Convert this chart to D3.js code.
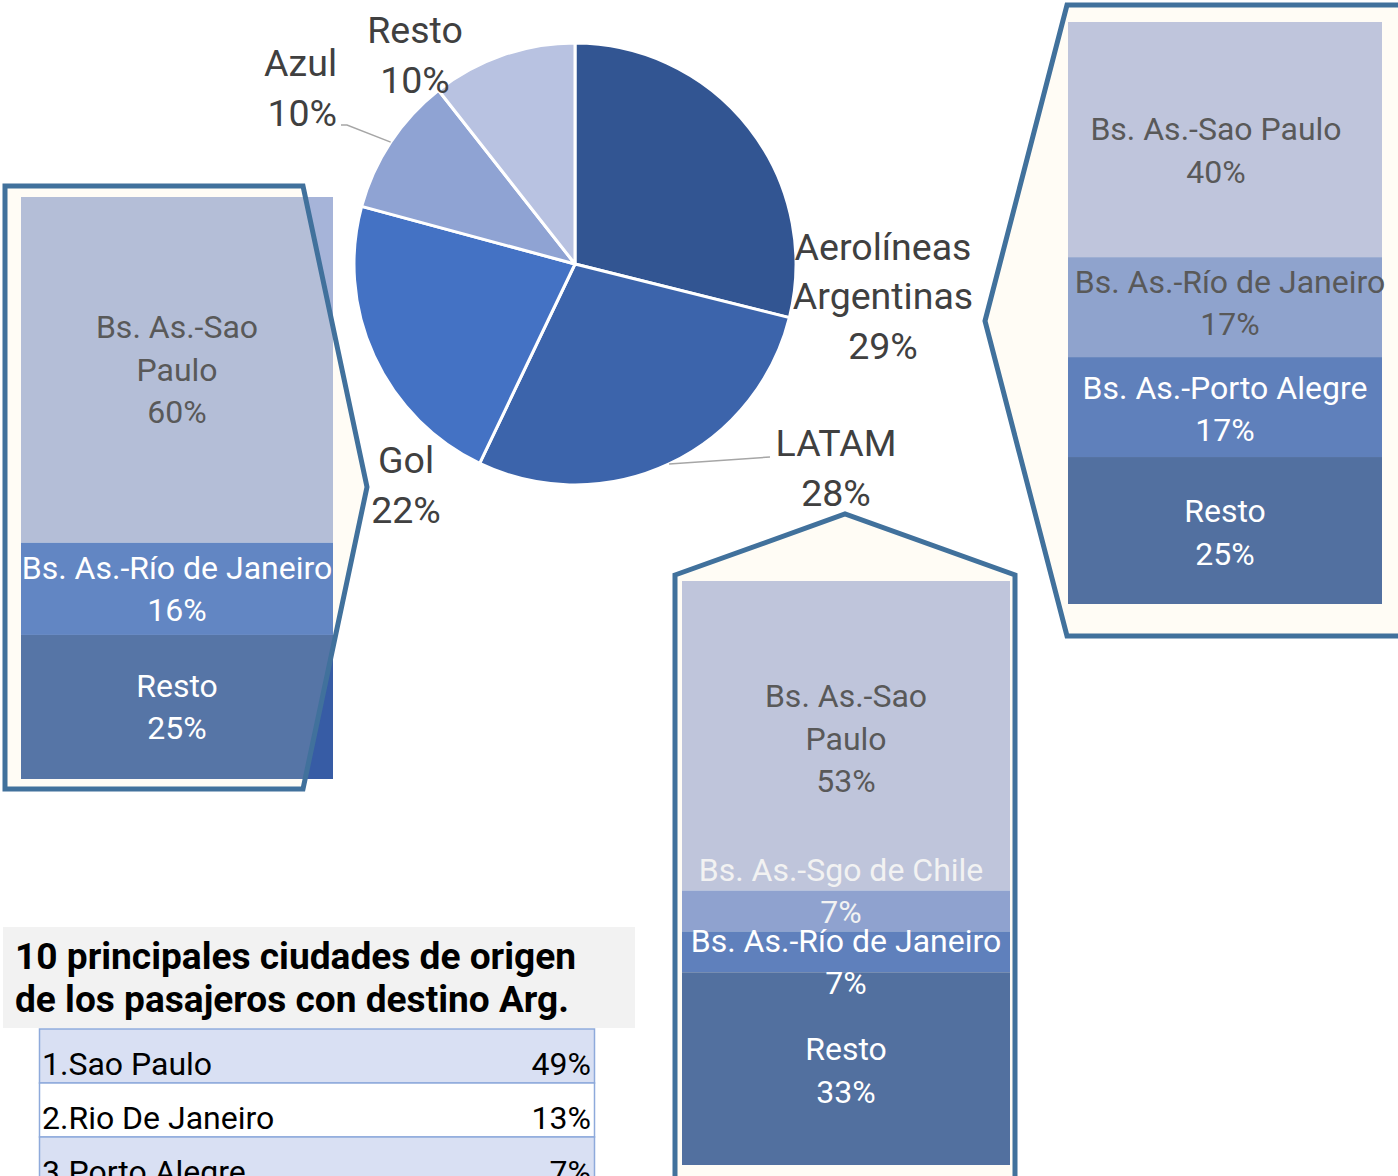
<!DOCTYPE html>
<html>
<head>
<meta charset="utf-8">
<script src="https://cdn.jsdelivr.net/npm/d3@7"></script>
<style>
  body { margin: 0; background: #fff; }
  svg { display: block; font-family: Roboto, "DejaVu Sans", sans-serif; }
</style>
</head>
<body>
<div id="chart"></div>
<script>
// pie: share of passengers per airline
const airlines = ["Aerolíneas|Argentinas", "LATAM", "Gol", "Azul", "Resto"];
const airlineShares = [28.9, 28.2, 22.1, 10.2, 10.6];
const airlineLabels = ["29%", "28%", "22%", "10%", "10%"];

// routes per airline (callout bars)
const golRoutes = ["Bs. As.-Sao|Paulo", "Bs. As.-Río de Janeiro", "Resto"];
const golShares = [60, 16, 25];
const arRoutes = ["Bs. As.-Sao Paulo", "Bs. As.-Río de Janeiro", "Bs. As.-Porto Alegre", "Resto"];
const arShares = [40, 17, 17, 25];
const latamRoutes = ["Bs. As.-Sao|Paulo", "Bs. As.-Sgo de Chile", "Bs. As.-Río de Janeiro", "Resto"];
const latamShares = [53, 7, 7, 33];

// table
const cities = ["Sao Paulo", "Rio De Janeiro", "Porto Alegre"];
const cityShares = [49, 13, 7];

const width = 1398, height = 1176;
const svg = d3.select("#chart").append("svg")
    .attr("width", width)
    .attr("height", height);

const pct = d => d + "%";
const calloutStroke = "#41719c";
const cream = "#fffcf5";

// ---- callout boxes ----
function callout(points, clipId) {
    const line = d3.line();
    svg.append("path")
        .attr("d", line(points) + "Z")
        .attr("fill", cream);
    if (clipId) {
        svg.append("clipPath").attr("id", clipId)
          .append("path").attr("d", line(points) + "Z");
    }
    return () => svg.append("path")
        .attr("d", line(points) + "Z")
        .attr("fill", "none")
        .attr("stroke", calloutStroke)
        .attr("stroke-width", 5)
        .attr("stroke-linejoin", "miter");
}

function stackBar(box, names, values, fills, textFills, nudges, clipId) {
    const total = d3.sum(values);
    const y = d3.scaleLinear().domain([0, total]).range([box.y0, box.y1]);
    const ends = d3.cumsum(values);
    const segs = values.map((v, i) => ({
        name: names[i], value: v, start: ends[i] - v, end: ends[i], i
    }));
    const g = svg.append("g");
    if (clipId) g.attr("clip-path", "url(#" + clipId + ")");
    g.selectAll("rect")
      .data(segs)
      .join("rect")
        .attr("x", box.x0)
        .attr("width", box.x1 - box.x0)
        .attr("y", d => y(d.start))
        .attr("height", d => y(d.end) - y(d.start))
        .attr("fill", d => fills[d.i]);
    return () => {
        const lg = svg.append("g")
            .attr("font-size", 32)
            .attr("text-anchor", "middle");
        segs.forEach(d => {
            const lines = d.name.split("|").concat([pct(d.value)]);
            const nd = nudges[d.i] || [0, 0];
            const cx = (box.x0 + box.x1) / 2 + nd[0];
            const cy = (y(d.start) + y(d.end)) / 2 + nd[1];
            const lh = 42.5;
            lg.selectAll(null)
              .data(lines)
              .join("text")
                .attr("x", cx)
                .attr("y", (t, k) => cy + (k - (lines.length - 1) / 2) * lh)
                .attr("dominant-baseline", "central")
                .attr("fill", textFills[d.i])
                .text(t => t);
        });
    };
}

// left: Gol
const golBox = {x0: 21, x1: 333, y0: 197, y1: 779};
stackBar(golBox, golRoutes, golShares, ["#a6b4d9", "#6286c3", "#375ca5"], [], [], null);
const golStroke = callout([[5, 186], [303, 186], [367, 487], [303, 789], [5, 789]], "clipGol");
const golText = stackBar(golBox, golRoutes, golShares,
    ["#b4bed7", "#6286c3", "#5675a6"], ["#595959", "#fff", "#fff"], [], "clipGol");
golStroke();
golText();

// right: Aerolíneas Argentinas
const arStroke = callout([[985, 321], [1067, 5], [1410, 5], [1410, 636], [1067, 636]]);
const arText = stackBar({x0: 1068, x1: 1382, y0: 22, y1: 604}, arRoutes, arShares,
    ["#bfc5dc", "#8fa3cd", "#5f80bb", "#5270a0"],
    ["#595959", "#595959", "#fff", "#fff"],
    [[-9, 11], [5, -4], [0, 2], [0, 2]], null);
arStroke();
arText();

// bottom: LATAM
const latStroke = callout([[675, 575], [845, 514], [1015, 575], [1015, 1190], [675, 1190]]);
const latText = stackBar({x0: 682, x1: 1010, y0: 581, y1: 1165}, latamRoutes, latamShares,
    ["#bfc5db", "#8fa2cf", "#5f80bc", "#52709f"],
    ["#595959", "#f2f2f2", "#fff", "#fff"],
    [[0, 3], [-5, -20], [0, 10], [0, 2]], null);
latStroke();
latText();

// ---- pie ----
const cx = 575, cy = 264, r = 221;
const pieColors = ["#325592", "#3c64ab", "#4472c4", "#8fa3d3", "#b8c2e1"];
const pie = d3.pie().sort(null).value(d => d);
const arcs = pie(airlineShares);
const arc = d3.arc().innerRadius(0).outerRadius(r);
const rim = d3.arc().innerRadius(r).outerRadius(r);

const pg = svg.append("g").attr("transform", `translate(${cx},${cy})`);
pg.selectAll("path")
  .data(arcs)
  .join("path")
    .attr("d", arc)
    .attr("fill", (d, i) => pieColors[i])
    .attr("stroke", "#fff")
    .attr("stroke-width", 3)
    .attr("stroke-linejoin", "round");

// label anchors relative to centre (layout, not data)
const pieLabelPos = [
    {dx: 308, dy: 32, anchor: "middle"},
    {dx: 261, dy: 204, anchor: "middle", leader: [195, 193]},
    {dx: -169, dy: 221, anchor: "middle"},
    {dx: -238, dy: -176, anchor: "end", leader: [-234, -139]},
    {dx: -160, dy: -209, anchor: "middle"}
];

arcs.forEach((a, i) => {
    const p = pieLabelPos[i];
    if (p.leader) {
        const c = rim.centroid(a);
        const pts = i === 3
            ? [c, [p.leader[0] + 6, p.leader[1]], p.leader]
            : [c, p.leader];
        pg.append("path")
            .attr("d", d3.line()(pts))
            .attr("fill", "none")
            .attr("stroke", "#a6a6a6")
            .attr("stroke-width", 1.5);
    }
    const lines = airlines[i].split("|").concat([airlineLabels[i]]);
    pg.selectAll(null)
      .data(lines)
      .join("text")
        .attr("x", p.dx)
        .attr("y", (t, k) => p.dy + (k - (lines.length - 1) / 2) * 49.5)
        .attr("dominant-baseline", "central")
        .attr("text-anchor", p.anchor)
        .attr("font-size", 37.5)
        .attr("fill", "#404040")
        .text(t => t);
});

// ---- table ----
svg.append("rect")
    .attr("x", 3).attr("y", 927)
    .attr("width", 632).attr("height", 101)
    .attr("fill", "#f2f2f2");
const titleLines = ["10 principales ciudades de origen", "de los pasajeros con destino Arg."];
svg.selectAll(null)
  .data(titleLines)
  .join("text")
    .attr("x", 15)
    .attr("y", (t, k) => 957 + k * 43)
    .attr("dominant-baseline", "central")
    .attr("font-size", 36)
    .attr("font-weight", "bold")
    .attr("fill", "#000")
    .attr("textLength", (t, k) => k === 0 ? 561 : 554)
    .attr("lengthAdjust", "spacingAndGlyphs")
    .text(t => t);

const rowY = d3.scaleBand().domain(d3.range(cities.length)).range([1029, 1029 + 54 * cities.length]);
const rows = svg.append("g").selectAll("g")
  .data(cities)
  .join("g")
    .attr("transform", (d, i) => `translate(0,${rowY(i)})`);
rows.append("rect")
    .attr("x", 39.5)
    .attr("width", 555)
    .attr("height", rowY.bandwidth())
    .attr("fill", (d, i) => i % 2 === 0 ? "#d9e0f3" : "#fff")
    .attr("stroke", "#8eaadb")
    .attr("stroke-width", 1.5);
rows.append("text")
    .attr("x", 42)
    .attr("y", 35)
    .attr("dominant-baseline", "central")
    .attr("font-size", 32)
    .attr("fill", "#000")
    .text((d, i) => (i + 1) + "." + d);
rows.append("text")
    .attr("x", 591)
    .attr("y", 35)
    .attr("dominant-baseline", "central")
    .attr("text-anchor", "end")
    .attr("font-size", 32)
    .attr("fill", "#000")
    .text((d, i) => pct(cityShares[i]));
</script>
</body>
</html>
